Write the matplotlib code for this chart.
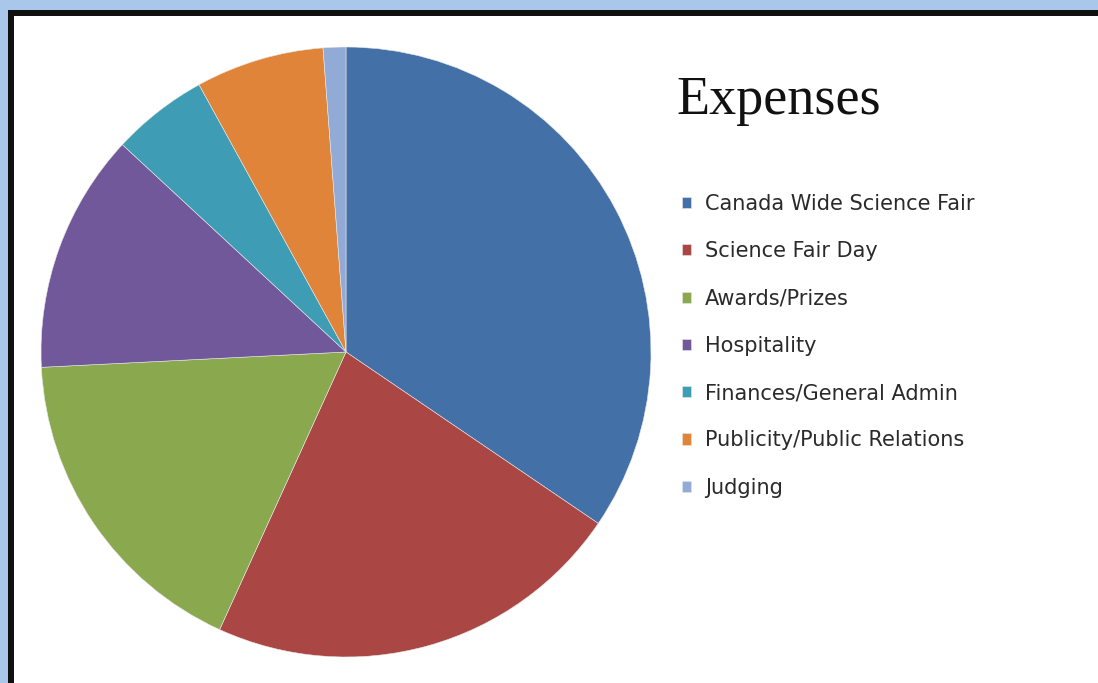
import matplotlib
matplotlib.use("Agg")
import matplotlib.pyplot as plt
from matplotlib.patches import Rectangle

categories = ["Canada Wide Science Fair", "Science Fair Day", "Awards/Prizes",
              "Hospitality", "Finances/General Admin", "Publicity/Public Relations", "Judging"]
values = [34.5, 22.3, 17.4, 12.7, 5.1, 6.8, 1.2]
colors = ["#4470A8", "#AA4644", "#8AA84E", "#71589A", "#3E9DB4", "#E0843A", "#92AAD6"]
title = "Expenses"

W, H = 1098, 683
fig = plt.figure(figsize=(W / 100, H / 100), dpi=100)
fig.patch.set_facecolor("#A9C7EA")

# black frame and white panel
fig.add_artist(Rectangle((8 / W, 0), 1 - 8 / W + 0.01, 1 - 10 / H, transform=fig.transFigure,
                         facecolor="#101010", edgecolor="none", zorder=0))
fig.add_artist(Rectangle((14 / W, 0), 1, 1 - 16 / H, transform=fig.transFigure,
                         facecolor="white", edgecolor="none", zorder=0))

cx, cy, r = 346, 352, 305
ax = fig.add_axes([(cx - r) / W, (H - cy - r) / H, 2 * r / W, 2 * r / H])
wedges, _ = ax.pie(values, colors=colors, startangle=90, counterclock=False,
                   wedgeprops=dict(linewidth=0.4, edgecolor="#e8e8e8"))
ax.set_xlim(-1, 1)
ax.set_ylim(-1, 1)
ax.set_aspect("equal")
ax.axis("off")

fig.text(676 / W, 1 - 114 / H, title, fontsize=39, family="Liberation Serif",
         color="#111111", ha="left", va="baseline")

leg = fig.legend(wedges, categories, loc="upper left",
                 bbox_to_anchor=(682 / W, 1 - 194 / H), bbox_transform=fig.transFigure,
                 frameon=False, prop=dict(family="DejaVu Sans", size=15),
                 handlelength=0.45, handleheight=0.45, handletextpad=0.65,
                 labelspacing=1.31, borderaxespad=0, borderpad=0)
for t in leg.get_texts():
    t.set_color("#2a2a2a")

fig.savefig("out.png", dpi=100, facecolor=fig.get_facecolor())
